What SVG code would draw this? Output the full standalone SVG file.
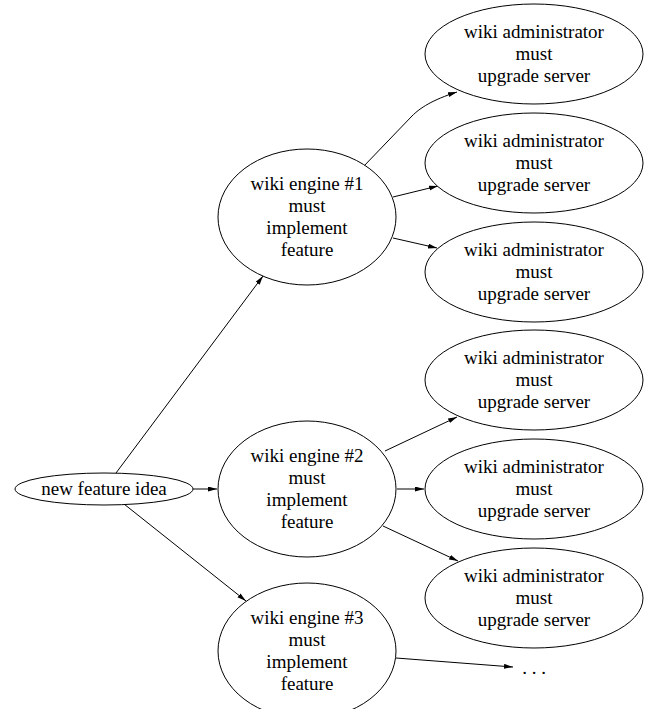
<svg xmlns="http://www.w3.org/2000/svg" width="649" height="709" viewBox="0 0 649 709">
<style>
.n ellipse{fill:#fff;stroke:#000;stroke-width:1}
text{font-family:"Liberation Serif","Times New Roman",serif;font-size:19px;text-anchor:middle;fill:#000}
.e path{fill:none;stroke:#000;stroke-width:1;marker-end:url(#ah)}
</style>
<defs>
<marker id="ah" markerUnits="userSpaceOnUse" markerWidth="10" markerHeight="6" refX="9" refY="2.5" orient="auto">
<path d="M0,0 L9,2.5 L0,5 z" fill="#000"/>
</marker>
</defs>
<rect width="649" height="709" fill="#fff"/>
<g class="e" id="edges">
<path d="M116,473 L263,276"/>
<path d="M193,489 L217,489"/>
<path d="M124,504 L246,601"/>
<path d="M363,167 L412,116 C420,108 432,100 457,92"/>
<path d="M393,197 L438,186"/>
<path d="M393,238 L437,248"/>
<path d="M385,451 L457,417"/>
<path d="M397,489 L424,489"/>
<path d="M383,526 L458,561"/>
<path d="M396,658 L513,667"/>
</g>
<g class="n" id="new">
<ellipse cx="104" cy="489" rx="89" ry="16"/>
<text x="104" y="495">new feature idea</text>
</g>
<g class="n" id="engine1">
<ellipse cx="307" cy="217" rx="89" ry="68"/>
<text x="307" y="190">wiki engine #1</text><text x="307" y="212">must</text><text x="307" y="234">implement</text><text x="307" y="256">feature</text>
</g>
<g class="n" id="engine2">
<ellipse cx="307" cy="489" rx="89" ry="68"/>
<text x="307" y="462">wiki engine #2</text><text x="307" y="484">must</text><text x="307" y="506">implement</text><text x="307" y="528">feature</text>
</g>
<g class="n" id="engine3">
<ellipse cx="307" cy="651" rx="89" ry="68"/>
<text x="307" y="624">wiki engine #3</text><text x="307" y="646">must</text><text x="307" y="668">implement</text><text x="307" y="690">feature</text>
</g>
<g class="n" id="admin1">
<ellipse cx="534" cy="54" rx="109" ry="50"/>
<text x="534" y="38">wiki administrator</text><text x="534" y="60">must</text><text x="534" y="82">upgrade server</text>
</g>
<g class="n" id="admin2">
<ellipse cx="534" cy="163" rx="109" ry="50"/>
<text x="534" y="147">wiki administrator</text><text x="534" y="169">must</text><text x="534" y="191">upgrade server</text>
</g>
<g class="n" id="admin3">
<ellipse cx="534" cy="272" rx="109" ry="50"/>
<text x="534" y="256">wiki administrator</text><text x="534" y="278">must</text><text x="534" y="300">upgrade server</text>
</g>
<g class="n" id="admin4">
<ellipse cx="534" cy="380" rx="109" ry="50"/>
<text x="534" y="364">wiki administrator</text><text x="534" y="386">must</text><text x="534" y="408">upgrade server</text>
</g>
<g class="n" id="admin5">
<ellipse cx="534" cy="489" rx="109" ry="50"/>
<text x="534" y="473">wiki administrator</text><text x="534" y="495">must</text><text x="534" y="517">upgrade server</text>
</g>
<g class="n" id="admin6">
<ellipse cx="534" cy="598" rx="109" ry="50"/>
<text x="534" y="582">wiki administrator</text><text x="534" y="604">must</text><text x="534" y="626">upgrade server</text>
</g>
<g id="more">
<text x="534" y="674">. . .</text>
</g>
</svg>
